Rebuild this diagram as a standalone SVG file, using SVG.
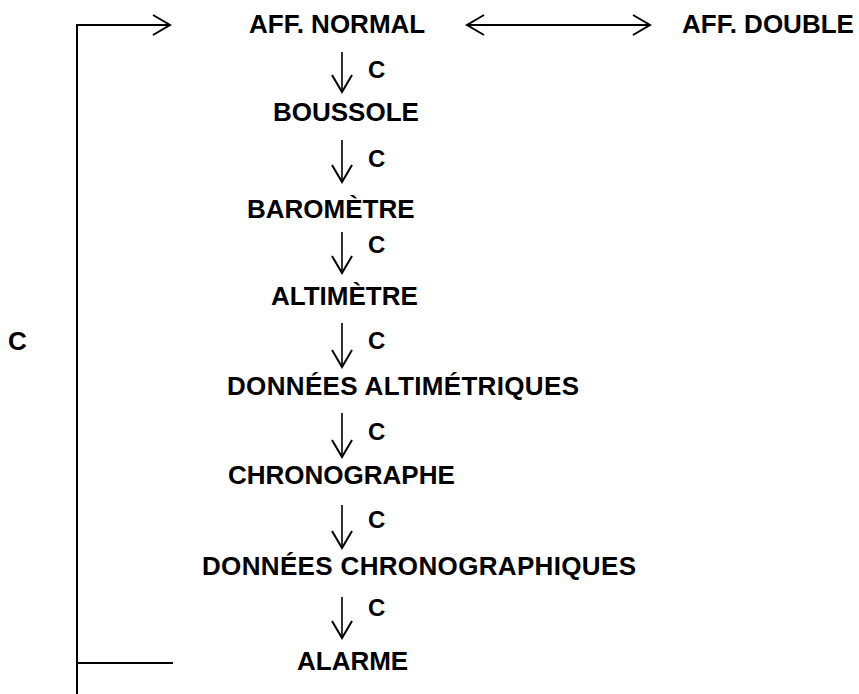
<svg xmlns="http://www.w3.org/2000/svg" width="859" height="694" viewBox="0 0 859 694">
<style>
text{font-family:"Liberation Sans",Arial,sans-serif;font-weight:bold;fill:#000}
.t{font-size:26px}
.c{font-size:24px}
.ln{stroke:#000;stroke-width:2;fill:none}
.v{stroke:#000;stroke-width:1.6;fill:none}
</style>
<defs>
<marker id="ah" markerUnits="userSpaceOnUse" markerWidth="24" markerHeight="24" viewBox="-20 -12 24 24" refX="0" refY="0" orient="auto-start-reverse">
<path d="M-17,-10 L0,0 L-17,10" fill="none" stroke="#000" stroke-width="2"/>
</marker>
</defs>
<rect width="859" height="694" fill="#fff"/>
<g id="connectors">
<path class="ln" d="M77,694 V25 H170" marker-end="url(#ah)"/>
<path class="ln" d="M77,663 H173"/>
<line class="ln" x1="467" y1="25" x2="650" y2="25" marker-start="url(#ah)" marker-end="url(#ah)"/>
<line class="v" x1="342" y1="52" x2="342" y2="92" marker-end="url(#ah)"/>
<line class="v" x1="342" y1="140" x2="342" y2="182" marker-end="url(#ah)"/>
<line class="v" x1="342" y1="232" x2="342" y2="273" marker-end="url(#ah)"/>
<line class="v" x1="342" y1="323" x2="342" y2="367" marker-end="url(#ah)"/>
<line class="v" x1="342" y1="413" x2="342" y2="457" marker-end="url(#ah)"/>
<line class="v" x1="342" y1="505" x2="342" y2="548" marker-end="url(#ah)"/>
<line class="v" x1="342" y1="597" x2="342" y2="638" marker-end="url(#ah)"/>
<text class="t" x="8" y="350">C</text>
<text class="c" x="368" y="78">C</text>
<text class="c" x="368" y="167">C</text>
<text class="c" x="368" y="253">C</text>
<text class="c" x="368" y="349">C</text>
<text class="c" x="368" y="440">C</text>
<text class="c" x="368" y="528">C</text>
<text class="c" x="368" y="616">C</text>
</g>
<g id="aff-normal"><text class="t" x="249" y="33">AFF. NORMAL</text></g>
<g id="aff-double"><text class="t" x="682" y="33">AFF. DOUBLE</text></g>
<g id="boussole"><text class="t" x="273" y="121">BOUSSOLE</text></g>
<g id="barometre"><text class="t" x="247" y="218">BAROMÈTRE</text></g>
<g id="altimetre"><text class="t" x="271" y="305">ALTIMÈTRE</text></g>
<g id="donnees-alti"><text class="t" x="227" y="395" textLength="352">DONNÉES ALTIMÉTRIQUES</text></g>
<g id="chronographe"><text class="t" x="228" y="484">CHRONOGRAPHE</text></g>
<g id="donnees-chrono"><text class="t" x="202" y="575" textLength="434">DONNÉES CHRONOGRAPHIQUES</text></g>
<g id="alarme"><text class="t" x="297" y="670">ALARME</text></g>
</svg>
